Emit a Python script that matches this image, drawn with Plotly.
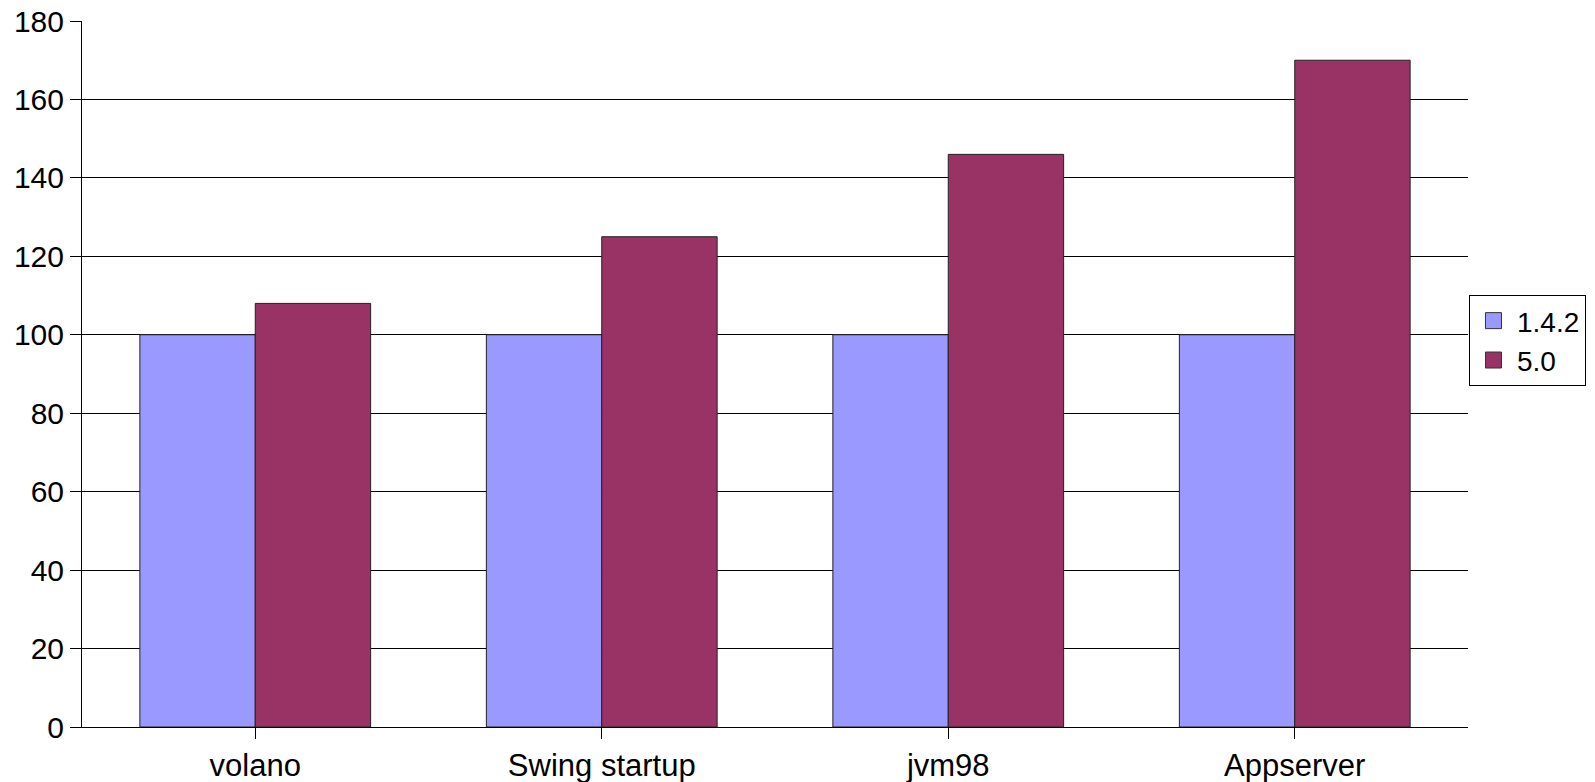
import plotly.graph_objects as go

categories = ["volano", "Swing startup", "jvm98", "Appserver"]
series_names = ["1.4.2", "5.0"]
values_142 = [100, 100, 100, 100]
values_50 = [108, 125, 146, 170]
colors = ["#9999FF", "#993366"]
y_ticks = [0, 20, 40, 60, 80, 100, 120, 140, 160, 180]

fig = go.Figure()
for name, vals, col in zip(series_names, [values_142, values_50], colors):
    fig.add_trace(go.Bar(
        x=categories, y=vals, name=name, showlegend=False,
        marker=dict(color=col, line=dict(color="#222222", width=1)),
    ))
# legend entries (square swatches like the reference)
for name, col in zip(series_names, colors):
    fig.add_trace(go.Scatter(
        x=[None], y=[None], name=name, mode="markers",
        marker=dict(symbol="square", size=20, color=col,
                    line=dict(color="#333333", width=1)),
    ))

font = "Liberation Sans, Arial, sans-serif"
fig.update_layout(
    width=1595, height=782,
    margin=dict(l=82, r=127, t=21, b=55, autoexpand=False),
    paper_bgcolor="white", plot_bgcolor="white",
    barmode="group", bargap=0.334, bargroupgap=0,
    font=dict(family=font, color="black", size=30),
    legend=dict(
        x=1.0007, xanchor="left", y=0.612, yanchor="top",
        bordercolor="black", borderwidth=1, bgcolor="white",
        font=dict(size=28, family=font, color="black"),
        tracegroupgap=0, itemsizing="trace", itemwidth=37,
        entrywidth=122, entrywidthmode="pixels",
    ),
    xaxis=dict(
        showline=True, linecolor="black", linewidth=1,
        ticks="outside", ticklen=11, tickcolor="black",
        showgrid=False, tickfont=dict(size=31), automargin=False,
    ),
    yaxis=dict(
        range=[0, 180], tickvals=y_ticks,
        showline=True, linecolor="black", linewidth=1,
        ticks="outside", ticklen=11, tickcolor="black",
        showgrid=True, gridcolor="black", gridwidth=1,
        zeroline=False, tickfont=dict(size=30), automargin=False,
    ),
)

fig.write_html("out.html")
